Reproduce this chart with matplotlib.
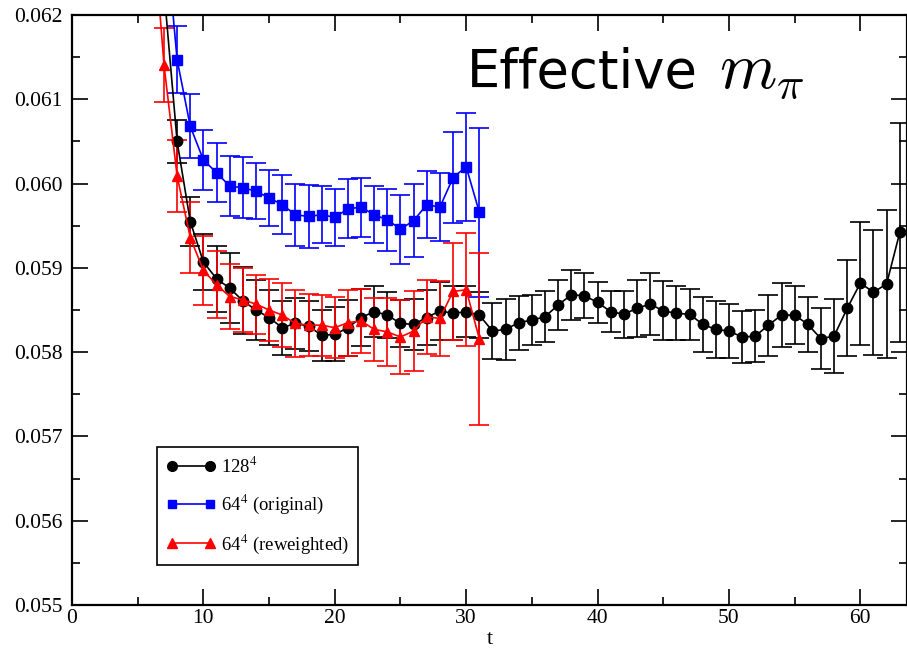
import numpy as np
import matplotlib
matplotlib.use('Agg')
import matplotlib.pyplot as plt
from matplotlib.lines import Line2D

plt.rcParams['font.family'] = ['Liberation Serif', 'DejaVu Serif']
plt.rcParams['mathtext.fontset'] = 'stix'

# Effective pion mass vs. Euclidean time, three ensembles
T_128 = list(range(7, 64))
M_128 = [0.0623, 0.06050, 0.05955, 0.05907, 0.05887, 0.05876, 0.05861, 0.05850, 0.05841, 0.05829,
         0.05834, 0.05831, 0.05820, 0.05821, 0.05829, 0.05841, 0.05848, 0.05844, 0.05834, 0.05833,
         0.05841, 0.05849, 0.05846, 0.05848, 0.05844, 0.05825, 0.05827, 0.05835, 0.05838, 0.05842,
         0.05856, 0.05868, 0.05867, 0.05859, 0.05848, 0.05845, 0.05852, 0.05857, 0.05849, 0.05846,
         0.05845, 0.05833, 0.05827, 0.05825, 0.05818, 0.05819, 0.05832, 0.05844, 0.05844, 0.05833,
         0.05816, 0.05819, 0.05852, 0.05882, 0.05871, 0.05881, 0.05942]
E_128 = [0.00030, 0.00025, 0.00029, 0.00033, 0.00039, 0.00042, 0.00040, 0.00036, 0.00033, 0.00032,
         0.00030, 0.00030, 0.00030, 0.00032, 0.00033, 0.00034, 0.00030, 0.00027, 0.00028, 0.00030,
         0.00033, 0.00034, 0.00032, 0.00030, 0.00027, 0.00033, 0.00036, 0.00032, 0.00030, 0.00030,
         0.00030, 0.00030, 0.00027, 0.00024, 0.00024, 0.00028, 0.00034, 0.00037, 0.00035, 0.00032,
         0.00030, 0.00033, 0.00034, 0.00032, 0.00031, 0.00031, 0.00036, 0.00038, 0.00034, 0.00033,
         0.00036, 0.00044, 0.00057, 0.00073, 0.00074, 0.00088, 0.00130]

T_64 = list(range(7, 32))
M_64 = [0.0632, 0.06147, 0.06068, 0.06028, 0.06013, 0.05997, 0.05995, 0.05991, 0.05983, 0.05975,
        0.05963, 0.05961, 0.05963, 0.05960, 0.05970, 0.05972, 0.05963, 0.05957, 0.05946, 0.05956,
        0.05975, 0.05972, 0.06007, 0.06020, 0.05966]
E_64 = [0.00045, 0.00040, 0.00038, 0.00036, 0.00035, 0.00036, 0.00036, 0.00033, 0.00033, 0.00035,
        0.00037, 0.00037, 0.00034, 0.00034, 0.00035, 0.00035, 0.00034, 0.00037, 0.00041, 0.00043,
        0.00040, 0.00040, 0.00054, 0.00064, 0.00100]

T_RW = list(range(6, 32))
M_RW = [0.0634, 0.06141, 0.06009, 0.05936, 0.05897, 0.05880, 0.05866, 0.05862, 0.05857, 0.05850,
        0.05844, 0.05834, 0.05832, 0.05832, 0.05829, 0.05835, 0.05837, 0.05827, 0.05824, 0.05818,
        0.05825, 0.05842, 0.05840, 0.05872, 0.05874, 0.05816]
E_RW = [0.00050, 0.00044, 0.00043, 0.00042, 0.00041, 0.00040, 0.00039, 0.00038, 0.00035, 0.00037,
        0.00038, 0.00040, 0.00037, 0.00036, 0.00036, 0.00039, 0.00038, 0.00037, 0.00040, 0.00044,
        0.00047, 0.00044, 0.00044, 0.00058, 0.00067, 0.00102]

SERIES = [
    (T_128, M_128, E_128, 'black', 'o', 7.5, '128$^4$'),
    (T_64,  M_64,  E_64,  'blue',  's', 6.5, '64$^4$ (original)'),
    (T_RW,  M_RW,  E_RW,  'red',   '^', 7.5, '64$^4$ (reweighted)'),
]

fig = plt.figure(figsize=(9.07, 6.51), dpi=100)
ax = fig.add_axes([72 / 907, 46 / 651, 835 / 907, 590 / 651])

handles = []
for t, m, e, color, marker, ms, label in SERIES:
    ax.errorbar(t, m, yerr=e, color=color, marker=marker, markersize=ms, linewidth=1.2,
                elinewidth=1.2, capsize=7, capthick=1.2)
    # legend shows just line + symbols, no error bars
    handles.append(Line2D([], [], color=color, marker=marker, markersize=ms - 0.5,
                          linewidth=1.2, label=label))

ax.set_xlim(0, 63.55)
ax.set_ylim(0.055, 0.062)
ax.set_xticks(np.arange(0, 61, 10))
ax.set_xticks(np.arange(5, 64, 10), minor=True)
ax.set_yticks(np.arange(0.055, 0.06201, 0.001))
ax.set_yticks(np.arange(0.0555, 0.062, 0.001), minor=True)
ax.yaxis.set_major_formatter(matplotlib.ticker.FormatStrFormatter('%.3f'))

ax.tick_params(which='both', direction='in', top=True, right=True, width=1.2, labelsize=15.5)
ax.tick_params(which='major', length=11.5)
ax.tick_params(which='minor', length=5.8)
ax.tick_params(axis='y', pad=7)
ax.tick_params(axis='x', pad=3)
for spine in ax.spines.values():
    spine.set_linewidth(1.6)

ax.set_xlabel('t', fontsize=16, labelpad=1)

ax.text(0.473, 0.876, 'Effective', transform=ax.transAxes, fontsize=38,
        family='DejaVu Sans')
ax.text(0.775, 0.876, r'$m_\pi$', transform=ax.transAxes, fontsize=47,
        math_fontfamily='cm')

leg = ax.legend(handles=handles, loc='lower left', bbox_to_anchor=(0.102, 0.068),
                borderaxespad=0, fontsize=13.5, numpoints=2, handlelength=2.6,
                handletextpad=0.3, labelspacing=0.85, fancybox=False, framealpha=1,
                edgecolor='black', borderpad=0.5)
leg.get_frame().set_linewidth(1.2)

fig.savefig('out.png', dpi=100)
